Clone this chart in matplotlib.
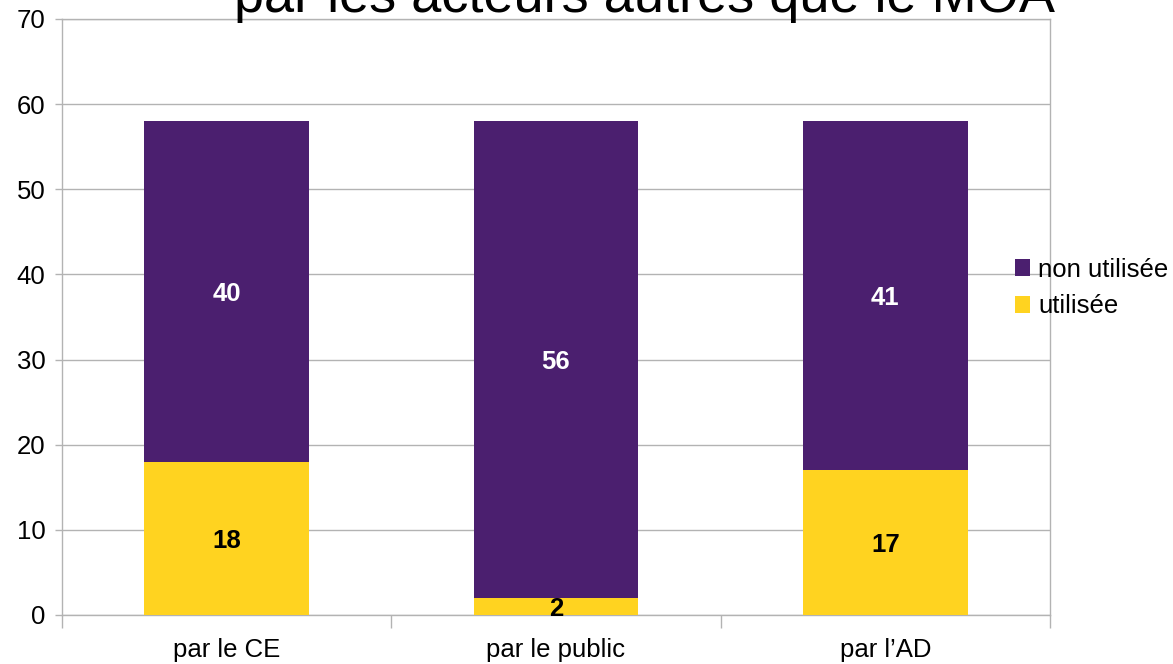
import matplotlib
matplotlib.use("Agg")
import matplotlib.pyplot as plt
import numpy as np

plt.rcParams['font.family'] = ['Liberation Sans', 'DejaVu Sans']

categories = ["par le CE", "par le public", "par l\u2019AD"]
utilisee = [18, 2, 17]
non_utilisee = [40, 56, 41]
series_names = ["non utilisée", "utilisée"]
title = "Utilisation des concertations\npar les acteurs autres que le MOA"

purple = "#4B1F6F"
yellow = "#FFD320"
grid_c = "#b3b3b3"
fs = 18.5

fig = plt.figure(figsize=(11.73, 6.64), dpi=100)
ax = fig.add_axes([62/1173, 1-615/664, (1050-62)/1173, (615-19)/664])

x = np.arange(len(categories))
b1 = ax.bar(x, utilisee, width=0.5, color=yellow, label=series_names[1], zorder=3)
b2 = ax.bar(x, non_utilisee, width=0.5, bottom=utilisee, color=purple, label=series_names[0], zorder=3)

for xi, u, n in zip(x, utilisee, non_utilisee):
    ax.text(xi, u/2, str(u), ha='center', va='center_baseline', fontsize=fs, fontweight='bold', color='black', zorder=4)
    ax.text(xi, u + n/2, str(n), ha='center', va='center_baseline', fontsize=fs, fontweight='bold', color='white', zorder=4)

ax.set_xlim(-0.5, len(categories)-0.5)
ax.set_ylim(0, 70)
ax.set_yticks(np.arange(0, 71, 10))
ax.yaxis.grid(True, color=grid_c, linewidth=1, zorder=0)
ax.set_xticks(np.arange(-0.5, len(categories), 1.0))
ax.set_xticklabels([])
ax.set_xticks(x, minor=True)
ax.set_xticklabels(categories, minor=True)
ax.tick_params(axis='x', which='major', length=9, color=grid_c, width=1)
ax.tick_params(axis='x', which='minor', length=0, labelsize=fs, pad=16.5)
ax.tick_params(axis='y', length=5, color=grid_c, width=1, labelsize=fs, pad=7)
for s in ax.spines.values():
    s.set_color(grid_c)
    s.set_linewidth(1)

handles = [b2, b1]
fig.legend(handles, series_names, loc='center left', bbox_to_anchor=(1015/1173, 1-288/664),
           frameon=False, fontsize=fs, handlelength=0.6, handleheight=0.6,
           handletextpad=0.3, labelspacing=0.5, borderaxespad=0, borderpad=0)

fig.text(645/1173, 1-12/664, title, ha='center', va='baseline', fontsize=39,
         linespacing=1.15)

fig.savefig("out.png", dpi=100)
